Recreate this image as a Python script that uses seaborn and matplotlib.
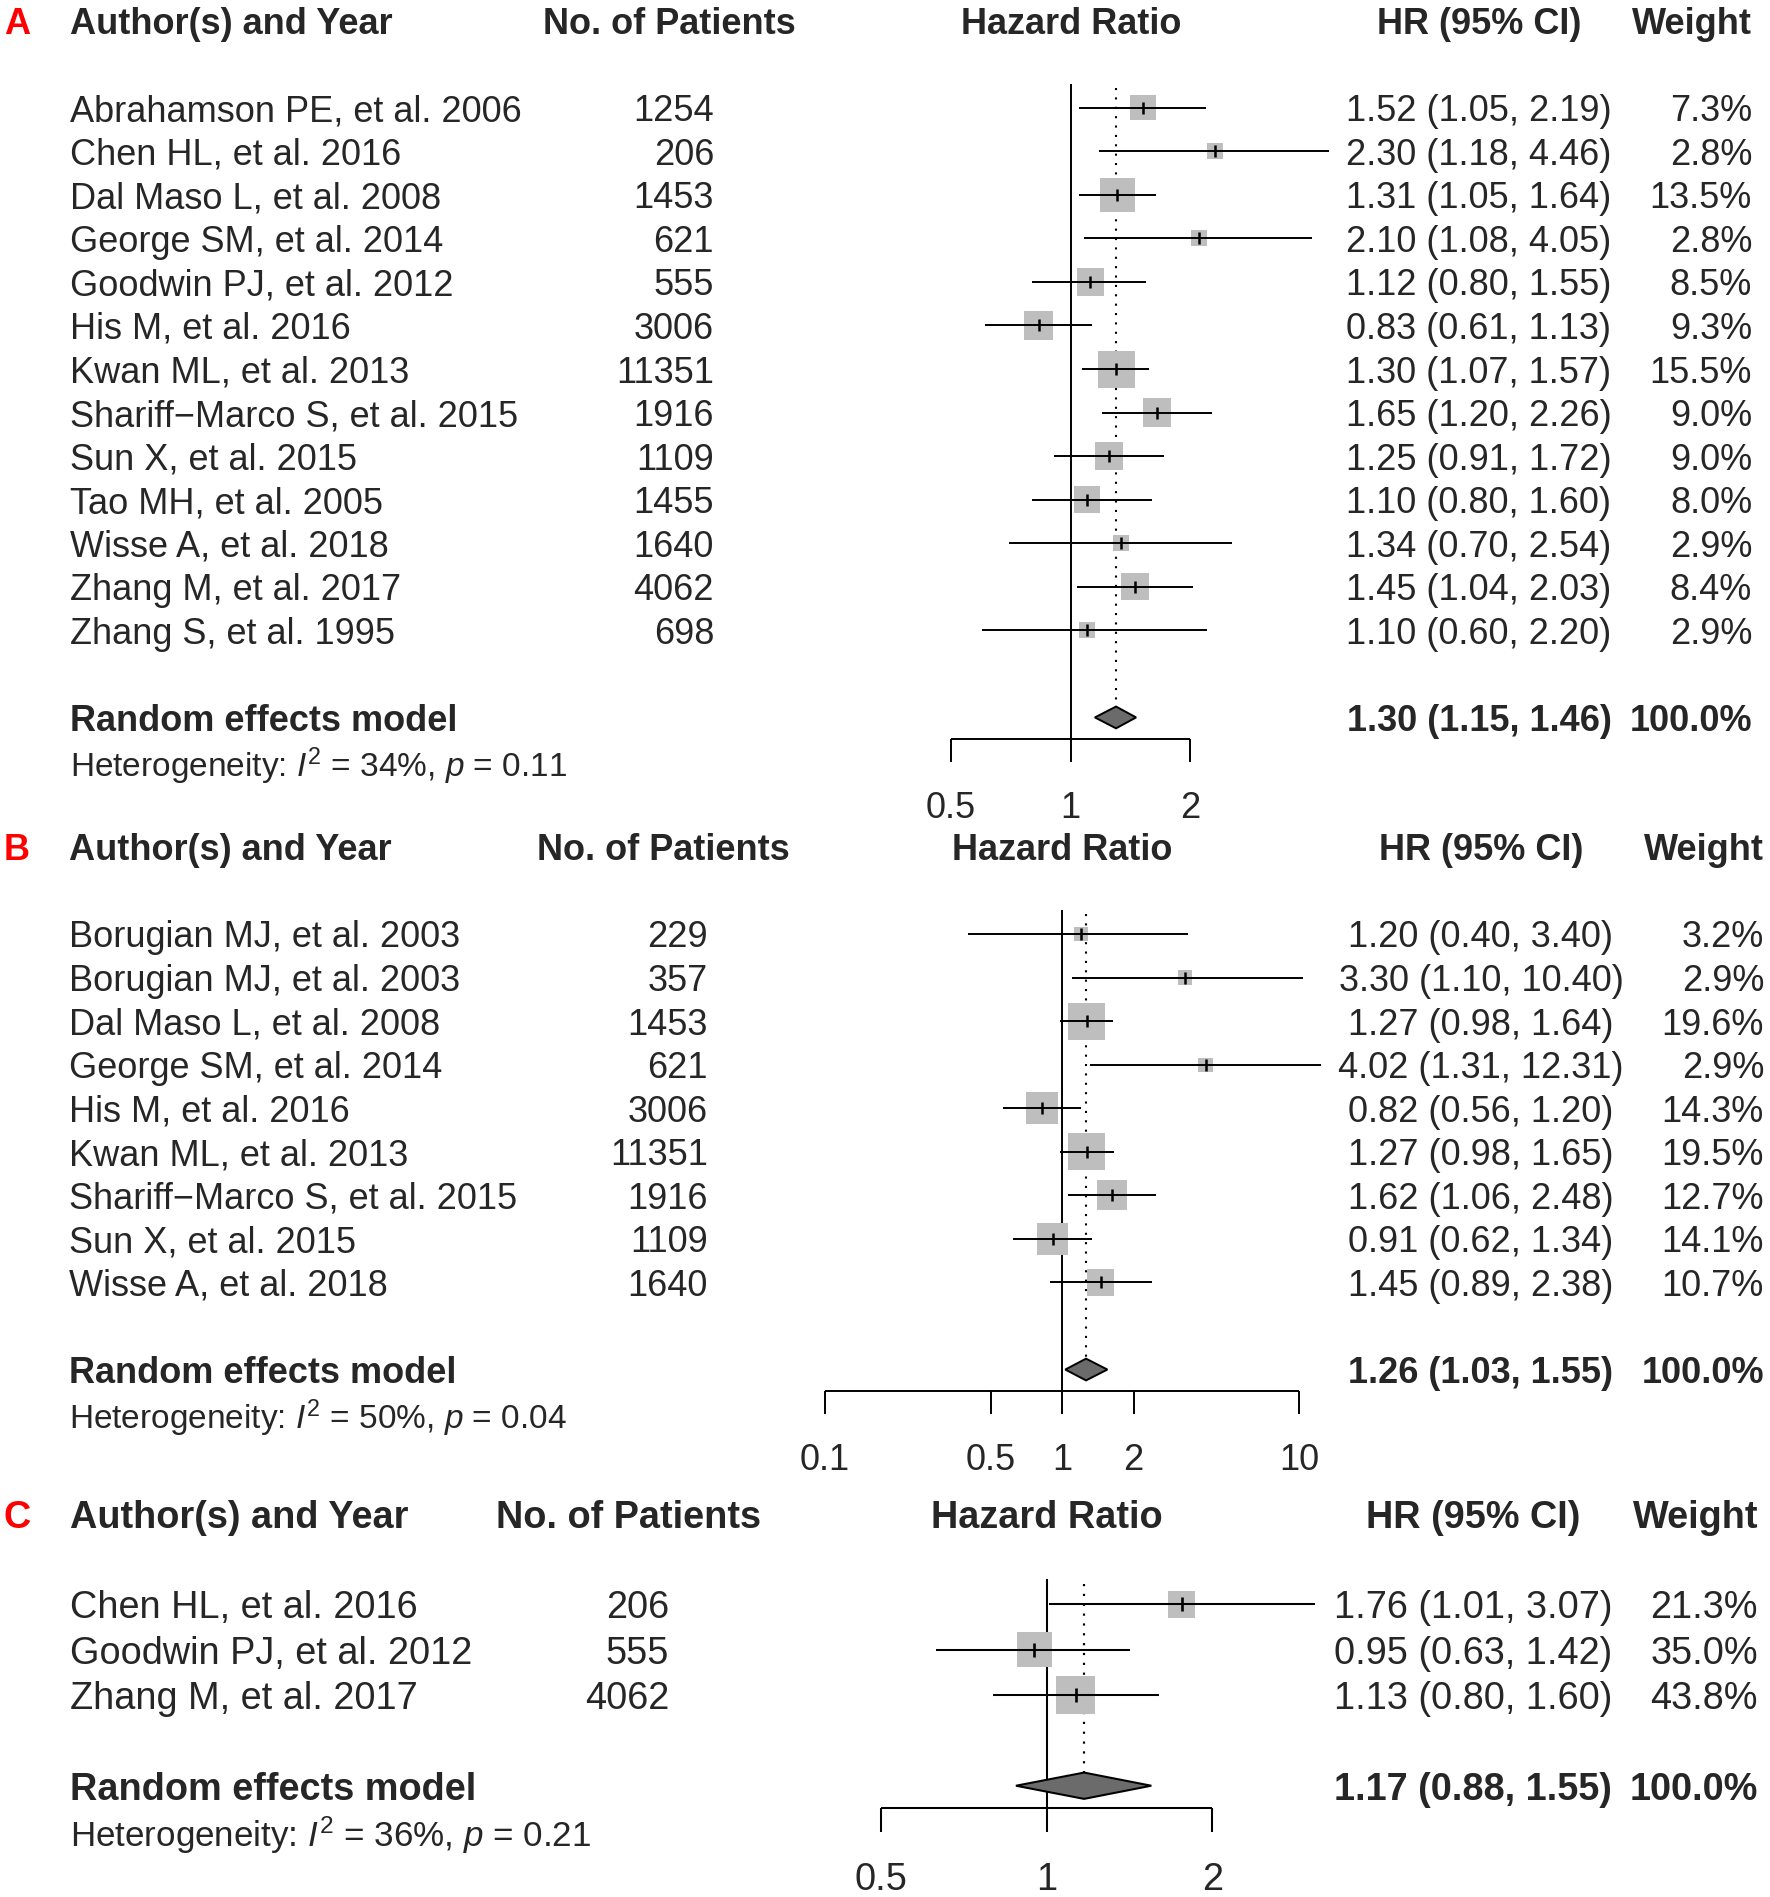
import numpy as np
import pandas as pd
import matplotlib
matplotlib.use("Agg")
import matplotlib.pyplot as plt
import matplotlib.transforms as mtransforms
import seaborn as sns

# ---- panel A ----
authors_a = ["Abrahamson PE, et al. 2006", "Chen HL, et al. 2016", "Dal Maso L, et al. 2008",
             "George SM, et al. 2014", "Goodwin PJ, et al. 2012", "His M, et al. 2016",
             "Kwan ML, et al. 2013", "Shariff\u2212Marco S, et al. 2015", "Sun X, et al. 2015",
             "Tao MH, et al. 2005", "Wisse A, et al. 2018", "Zhang M, et al. 2017",
             "Zhang S, et al. 1995"]
patients_a = [1254, 206, 1453, 621, 555, 3006, 11351, 1916, 1109, 1455, 1640, 4062, 698]
hr_a = [1.52, 2.30, 1.31, 2.10, 1.12, 0.83, 1.30, 1.65, 1.25, 1.10, 1.34, 1.45, 1.10]
lo_a = [1.05, 1.18, 1.05, 1.08, 0.80, 0.61, 1.07, 1.20, 0.91, 0.80, 0.70, 1.04, 0.60]
hi_a = [2.19, 4.46, 1.64, 4.05, 1.55, 1.13, 1.57, 2.26, 1.72, 1.60, 2.54, 2.03, 2.20]
w_a = [7.3, 2.8, 13.5, 2.8, 8.5, 9.3, 15.5, 9.0, 9.0, 8.0, 2.9, 8.4, 2.9]
summary_a = (1.30, 1.15, 1.46)
het_a = (34, "0.11")
ticks_a = [0.5, 1, 2]

# ---- panel B ----
authors_b = ["Borugian MJ, et al. 2003", "Borugian MJ, et al. 2003", "Dal Maso L, et al. 2008",
             "George SM, et al. 2014", "His M, et al. 2016", "Kwan ML, et al. 2013",
             "Shariff\u2212Marco S, et al. 2015", "Sun X, et al. 2015", "Wisse A, et al. 2018"]
patients_b = [229, 357, 1453, 621, 3006, 11351, 1916, 1109, 1640]
hr_b = [1.20, 3.30, 1.27, 4.02, 0.82, 1.27, 1.62, 0.91, 1.45]
lo_b = [0.40, 1.10, 0.98, 1.31, 0.56, 0.98, 1.06, 0.62, 0.89]
hi_b = [3.40, 10.40, 1.64, 12.31, 1.20, 1.65, 2.48, 1.34, 2.38]
w_b = [3.2, 2.9, 19.6, 2.9, 14.3, 19.5, 12.7, 14.1, 10.7]
summary_b = (1.26, 1.03, 1.55)
het_b = (50, "0.04")
ticks_b = [0.1, 0.5, 1, 2, 10]

# ---- panel C ----
authors_c = ["Chen HL, et al. 2016", "Goodwin PJ, et al. 2012", "Zhang M, et al. 2017"]
patients_c = [206, 555, 4062]
hr_c = [1.76, 0.95, 1.13]
lo_c = [1.01, 0.63, 0.80]
hi_c = [3.07, 1.42, 1.60]
w_c = [21.3, 35.0, 43.8]
summary_c = (1.17, 0.88, 1.55)
het_c = (36, "0.21")
ticks_c = [0.5, 1, 2]

W, H = 1770, 1897

sns.set_theme(style="white")
plt.rcParams["font.family"] = ["Liberation Sans", "DejaVu Sans"]
plt.rcParams["mathtext.fontset"] = "custom"
plt.rcParams["mathtext.rm"] = "Liberation Sans"
plt.rcParams["mathtext.it"] = "Liberation Sans:italic"
plt.rcParams["mathtext.bf"] = "Liberation Sans:bold"

fig = plt.figure(figsize=(W / 100, H / 100), dpi=100)


def fmt_ci(e, l, h):
    return f"{e:.2f} ({l:.2f}, {h:.2f})"


def draw_panel(letter, authors, patients, hr, lo, hi, weights, summary, het, ticks, lay):
    n = len(authors)
    row1, step, one_px, dec_px = lay["row1"], lay["step"], lay["one"], lay["decade"]
    k = lay["scale"]
    fs, fs_small, lw = 26 * k, 24 * k, 1.4 * k
    top = row1 + (-1.6 - 1) * step
    bot = row1 + (n + 4.6 - 1) * step
    ax = fig.add_axes([0, 1 - bot / H, 1, (bot - top) / H])
    ax.set_xscale("log")

    rows = np.arange(1, n + 1)
    df = pd.DataFrame({"hr": hr, "lo": lo, "hi": hi, "row": rows, "w": weights})

    # study squares, area proportional to weight
    side_max = 37 * k * 0.72
    sns.scatterplot(data=df, x="hr", y="row", size="w", sizes=(0, side_max ** 2),
                    size_norm=(0, max(weights)), marker="s", color="#bebebe",
                    edgecolor="none", linewidth=0, legend=False, ax=ax, zorder=2)
    ax.hlines(df["row"], df["lo"], df["hi"], color="black", lw=lw, zorder=3)
    ax.plot(df["hr"], df["row"], "|", color="black", ms=9 * k, mew=1.8 * k, zorder=4)

    est, slo, shi = summary
    yd = n + 2
    dh = lay["dh"]
    # reference lines
    ax.vlines(1, 0.45, n + 2.5, color="black", lw=lw, zorder=1)
    ax.vlines(est, 0.55, yd - dh, color="black", lw=1.5 * k, linestyles=(0, (1, 3.5)), zorder=1)
    ax.fill([slo, est, shi, est], [yd, yd - dh, yd, yd + dh], facecolor="#6b6b6b",
            edgecolor="black", lw=lw, zorder=3)

    # x axis
    ax.hlines(n + 2.5, ticks[0], ticks[-1], color="black", lw=lw)
    ax.vlines(ticks, n + 2.5, n + 3.02, color="black", lw=lw)
    for t in ticks:
        ax.text(t, n + 4, f"{t:g}", ha="center", va="center_baseline", fontsize=fs)

    tr = mtransforms.blended_transform_factory(fig.transFigure, ax.transData)
    fx = lambda px: px / W

    # header
    ax.text(fx(17), -1, letter, transform=tr, ha="center", va="center_baseline",
            fontsize=fs, fontweight="bold", color="#ff0000")
    ax.text(fx(lay["author"]), -1, "Author(s) and Year", transform=tr, ha="left",
            va="center_baseline", fontsize=fs, fontweight="bold")
    ax.text(fx(lay["pat_hdr"]), -1, "No. of Patients", transform=tr, ha="center",
            va="center_baseline", fontsize=fs, fontweight="bold")
    ax.text(np.sqrt(ticks[0] * ticks[-1]), -1, "Hazard Ratio", ha="center",
            va="center_baseline", fontsize=fs, fontweight="bold")
    ax.text(fx(lay["hr_col"]), -1, "HR (95% CI)", transform=tr, ha="center",
            va="center_baseline", fontsize=fs, fontweight="bold")
    ax.text(fx(lay["w_col"]), -1, "Weight", transform=tr, ha="right",
            va="center_baseline", fontsize=fs, fontweight="bold")

    # study rows
    for r, a, p, e, l, h, w in zip(rows, authors, patients, hr, lo, hi, weights):
        ax.text(fx(lay["author"]), r, a, transform=tr, ha="left", va="center_baseline", fontsize=fs)
        ax.text(fx(lay["pat"]), r, str(p), transform=tr, ha="right", va="center_baseline", fontsize=fs)
        ax.text(fx(lay["hr_col"]), r, fmt_ci(e, l, h), transform=tr, ha="center",
                va="center_baseline", fontsize=fs)
        ax.text(fx(lay["w_col"]), r, f"{w:.1f}%", transform=tr, ha="right",
                va="center_baseline", fontsize=fs)

    # summary
    ax.text(fx(lay["author"]), yd, "Random effects model", transform=tr, ha="left",
            va="center_baseline", fontsize=fs, fontweight="bold")
    ax.text(fx(lay["hr_col"]), yd, fmt_ci(est, slo, shi), transform=tr, ha="center",
            va="center_baseline", fontsize=fs, fontweight="bold")
    ax.text(fx(lay["w_col"]), yd, "100.0%", transform=tr, ha="right",
            va="center_baseline", fontsize=fs, fontweight="bold")
    ax.text(fx(lay["author"]), n + 3,
            rf"Heterogeneity: $I^2$ = {het[0]}%, $p$ = {het[1]}",
            transform=tr, ha="left", va="center_baseline", fontsize=fs_small)

    ax.set_xlim(10 ** (-one_px / dec_px), 10 ** ((W - one_px) / dec_px))
    ax.set_ylim(n + 4.6, -1.6)
    ax.axis("off")


s = W / 1463
lay_a = dict(row1=89 * s, step=36 * s, one=885 * s, decade=328.9 * s, scale=1.0, dh=0.25,
             author=70, pat=714, pat_hdr=669, hr_col=1479, w_col=1752)
lay_b = dict(row1=772 * s, step=36 * s, one=878 * s, decade=196 * s, scale=1.0, dh=0.25,
             author=69, pat=708, pat_hdr=663, hr_col=1481, w_col=1764)
lay_c = dict(row1=1326 * s, step=37.5 * s, one=865 * s, decade=455.1 * s, scale=1.05, dh=0.29,
             author=70, pat=669, pat_hdr=628, hr_col=1473, w_col=1758)

draw_panel("A", authors_a, patients_a, hr_a, lo_a, hi_a, w_a, summary_a, het_a, ticks_a, lay_a)
draw_panel("B", authors_b, patients_b, hr_b, lo_b, hi_b, w_b, summary_b, het_b, ticks_b, lay_b)
draw_panel("C", authors_c, patients_c, hr_c, lo_c, hi_c, w_c, summary_c, het_c, ticks_c, lay_c)

fig.savefig("out.png", dpi=100, facecolor="white")
